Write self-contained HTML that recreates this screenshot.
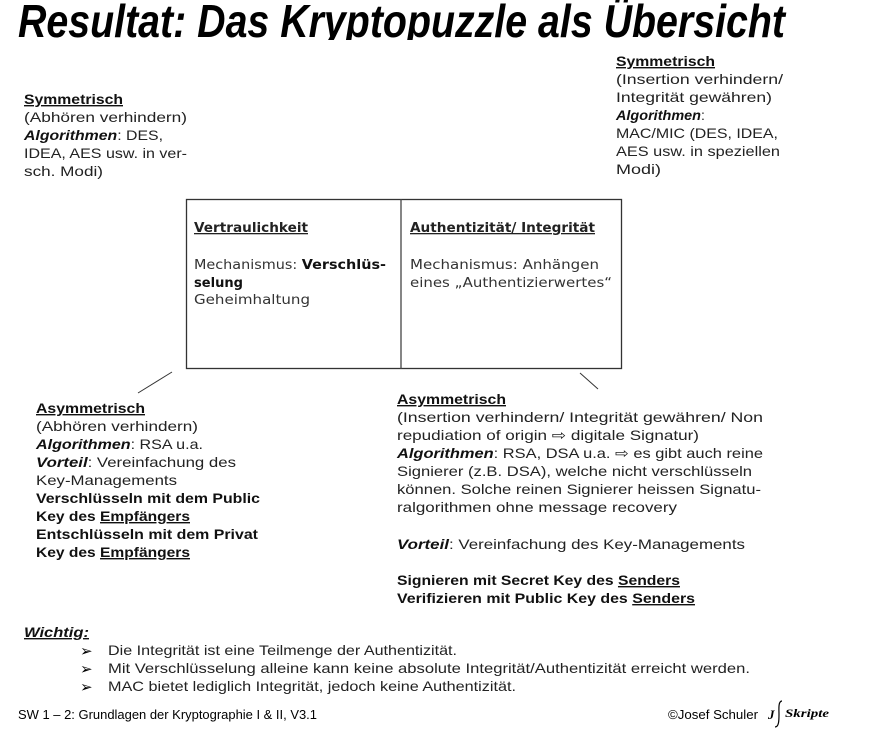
<!DOCTYPE html>
<html><head><meta charset="utf-8"><style>
html,body{margin:0;padding:0;background:#fff;}
svg{display:block;}
text{font-family:"Liberation Sans",sans-serif;font-size:14px;fill:#222;}
.b{font-weight:bold;fill:#111;}
.i{font-style:italic;font-weight:bold;fill:#111;}
.u{text-decoration:underline;}
.v{font-family:"DejaVu Sans",sans-serif;font-size:13px;fill:#333;}
</style></head><body>
<svg width="880" height="742" viewBox="0 0 880 742" xmlns="http://www.w3.org/2000/svg">
<text x="18" y="37" style="font-size:46px;font-weight:bold;font-style:italic;fill:#000" textLength="767" lengthAdjust="spacingAndGlyphs">Resultat: Das Kryptopuzzle als Übersicht</text>
<rect x="0" y="40" width="880" height="8" fill="#fff"/>

<!-- top left -->
<text x="24" y="104" class="b u" textLength="99" lengthAdjust="spacingAndGlyphs">Symmetrisch</text>
<text x="24" y="122" textLength="163" lengthAdjust="spacingAndGlyphs">(Abhören verhindern)</text>
<text x="24" y="140" textLength="139" lengthAdjust="spacingAndGlyphs"><tspan class="i">Algorithmen</tspan>: DES,</text>
<text x="24" y="158" textLength="163" lengthAdjust="spacingAndGlyphs">IDEA, AES usw. in ver-</text>
<text x="24" y="176" textLength="79" lengthAdjust="spacingAndGlyphs">sch. Modi)</text>

<!-- top right -->
<text x="616" y="66" class="b u" textLength="99" lengthAdjust="spacingAndGlyphs">Symmetrisch</text>
<text x="616" y="84" textLength="167" lengthAdjust="spacingAndGlyphs">(Insertion verhindern/</text>
<text x="616" y="102" textLength="156" lengthAdjust="spacingAndGlyphs">Integrität gewähren)</text>
<text x="616" y="120" class="i" textLength="85" lengthAdjust="spacingAndGlyphs">Algorithmen</text><text x="701" y="120">:</text>
<text x="616" y="138" textLength="162" lengthAdjust="spacingAndGlyphs">MAC/MIC (DES, IDEA,</text>
<text x="616" y="156" textLength="164" lengthAdjust="spacingAndGlyphs">AES usw. in speziellen</text>
<text x="616" y="174" textLength="45" lengthAdjust="spacingAndGlyphs">Modi)</text>

<!-- box -->
<rect x="186.5" y="199.5" width="435" height="169" fill="none" stroke="#333" stroke-width="1.3"/>
<line x1="401" y1="199" x2="401" y2="369" stroke="#444" stroke-width="1.3"/>
<text x="194" y="232" class="v u" style="font-weight:bold;fill:#222" textLength="114" lengthAdjust="spacingAndGlyphs">Vertraulichkeit</text>
<text x="194" y="269" class="v" textLength="192" lengthAdjust="spacingAndGlyphs">Mechanismus: <tspan style="font-weight:bold;fill:#111">Verschlüs-</tspan></text>
<text x="194" y="287" class="v" style="font-weight:bold;fill:#111" textLength="49" lengthAdjust="spacingAndGlyphs">selung</text>
<text x="194" y="304" class="v" textLength="116" lengthAdjust="spacingAndGlyphs">Geheimhaltung</text>
<text x="410" y="232" class="v u" style="font-weight:bold;fill:#222" textLength="185" lengthAdjust="spacingAndGlyphs">Authentizität/ Integrität</text>
<text x="410" y="269" class="v" textLength="189" lengthAdjust="spacingAndGlyphs">Mechanismus: Anhängen</text>
<text x="410" y="287" class="v" textLength="202" lengthAdjust="spacingAndGlyphs">eines „Authentizierwertes“</text>

<line x1="138" y1="393" x2="172" y2="372" stroke="#333" stroke-width="1"/>
<line x1="580" y1="373" x2="598" y2="389" stroke="#333" stroke-width="1"/>

<!-- bottom left -->
<text x="36" y="413" class="b u" textLength="109" lengthAdjust="spacingAndGlyphs">Asymmetrisch</text>
<text x="36" y="431" textLength="162" lengthAdjust="spacingAndGlyphs">(Abhören verhindern)</text>
<text x="36" y="449" textLength="167" lengthAdjust="spacingAndGlyphs"><tspan class="i">Algorithmen</tspan>: RSA u.a.</text>
<text x="36" y="467" textLength="200" lengthAdjust="spacingAndGlyphs"><tspan class="i">Vorteil</tspan>: Vereinfachung des</text>
<text x="36" y="485" textLength="141" lengthAdjust="spacingAndGlyphs">Key-Managements</text>
<text x="36" y="503" class="b" textLength="224" lengthAdjust="spacingAndGlyphs">Verschlüsseln mit dem Public</text>
<text x="36" y="521" class="b" textLength="154" lengthAdjust="spacingAndGlyphs">Key des <tspan class="u">Empfängers</tspan></text>
<text x="36" y="539" class="b" textLength="222" lengthAdjust="spacingAndGlyphs">Entschlüsseln mit dem Privat</text>
<text x="36" y="557" class="b" textLength="154" lengthAdjust="spacingAndGlyphs">Key des <tspan class="u">Empfängers</tspan></text>

<!-- bottom right -->
<text x="397" y="404" class="b u" textLength="109" lengthAdjust="spacingAndGlyphs">Asymmetrisch</text>
<text x="397" y="422" textLength="366" lengthAdjust="spacingAndGlyphs">(Insertion verhindern/ Integrität gewähren/ Non</text>
<text x="397" y="440" textLength="302" lengthAdjust="spacingAndGlyphs">repudiation of origin ⇨ digitale Signatur)</text>
<text x="397" y="458" textLength="366" lengthAdjust="spacingAndGlyphs"><tspan class="i">Algorithmen</tspan>: RSA, DSA u.a. ⇨ es gibt auch reine</text>
<text x="397" y="476" textLength="355" lengthAdjust="spacingAndGlyphs">Signierer (z.B. DSA), welche nicht verschlüsseln</text>
<text x="397" y="494" textLength="364" lengthAdjust="spacingAndGlyphs">können. Solche reinen Signierer heissen Signatu-</text>
<text x="397" y="512" textLength="280" lengthAdjust="spacingAndGlyphs">ralgorithmen ohne message recovery</text>
<text x="397" y="549" textLength="348" lengthAdjust="spacingAndGlyphs"><tspan class="i">Vorteil</tspan>: Vereinfachung des Key-Managements</text>
<text x="397" y="585" class="b" textLength="283" lengthAdjust="spacingAndGlyphs">Signieren mit Secret Key des <tspan class="u">Senders</tspan></text>
<text x="397" y="603" class="b" textLength="298" lengthAdjust="spacingAndGlyphs">Verifizieren mit Public Key des <tspan class="u">Senders</tspan></text>

<!-- Wichtig -->
<text x="24" y="637" class="i u" textLength="65" lengthAdjust="spacingAndGlyphs">Wichtig:</text>
<text x="80" y="656" style="font-size:15px;fill:#000">➢</text>
<text x="108" y="655" textLength="349" lengthAdjust="spacingAndGlyphs">Die Integrität ist eine Teilmenge der Authentizität.</text>
<text x="80" y="674" style="font-size:15px;fill:#000">➢</text>
<text x="108" y="673" textLength="642" lengthAdjust="spacingAndGlyphs">Mit Verschlüsselung alleine kann keine absolute Integrität/Authentizität erreicht werden.</text>
<text x="80" y="692" style="font-size:15px;fill:#000">➢</text>
<text x="108" y="691" textLength="408" lengthAdjust="spacingAndGlyphs">MAC bietet lediglich Integrität, jedoch keine Authentizität.</text>

<!-- footer -->
<text x="18" y="719" style="font-size:12.5px;fill:#000" textLength="299" lengthAdjust="spacingAndGlyphs">SW 1 – 2: Grundlagen der Kryptographie I &amp; II, V3.1</text>
<text x="668" y="719" style="font-size:12.5px;fill:#000" textLength="90" lengthAdjust="spacingAndGlyphs">©Josef Schuler</text>
<text x="768" y="719" style="font-family:'Liberation Serif',serif;font-size:13px;font-style:italic;font-weight:bold;fill:#000">J</text>
<path d="M782 701 C778 701 779 710 779 714 C779 720 779 727 775 727" fill="none" stroke="#000" stroke-width="1.2"/>
<text x="785" y="717" style="font-family:'Liberation Serif',serif;font-size:12px;font-style:italic;font-weight:bold;fill:#000" textLength="44" lengthAdjust="spacingAndGlyphs">Skripte</text>
</svg>
</body></html>
